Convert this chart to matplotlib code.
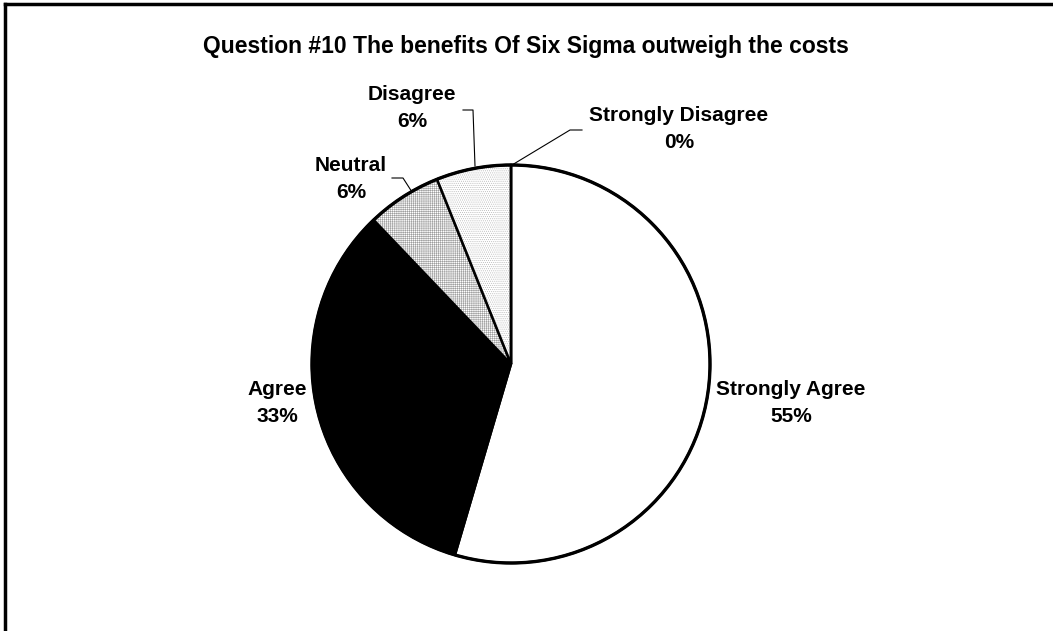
import matplotlib
matplotlib.use("Agg")
import matplotlib.pyplot as plt
from matplotlib.lines import Line2D

plt.rcParams['font.family'] = ['Liberation Sans', 'DejaVu Sans']
plt.rcParams['hatch.linewidth'] = 0.4

title = "Question #10 The benefits Of Six Sigma outweigh the costs"
categories = ["Strongly Agree", "Agree", "Neutral", "Disagree", "Strongly Disagree"]
counts = [18, 11, 2, 2, 0]
pct_labels = ["55%", "33%", "6%", "6%", "0%"]

W, H = 1053, 631
fig = plt.figure(figsize=(W / 100, H / 100), dpi=100)
ax = fig.add_axes([0, 0, 1, 1])

# outer frame (left and top visible)
fig.add_artist(Line2D([5 / W, 5 / W], [0, 1 - 4 / H], transform=fig.transFigure, color='black', lw=2.5))
fig.add_artist(Line2D([5 / W, 1], [1 - 4 / H, 1 - 4 / H], transform=fig.transFigure, color='black', lw=2.5))

cx, cy, r = 511, H - 364, 199
faces = ['white', 'black', 'white', 'white', 'white']
hatches = [None, None, '++++++++', '........', None]
hcolors = [None, None, (0.62, 0.62, 0.62, 1), (0.7, 0.7, 0.7, 1), None]
wedges, _ = ax.pie(counts, startangle=90, counterclock=False, center=(cx, cy), radius=r,
                   colors=faces, wedgeprops=dict(edgecolor='black', linewidth=1.8))
for w, h, hc in zip(wedges, hatches, hcolors):
    if h:
        w.set_hatch(h)
        w._hatch_color = hc

# outer circle thicker
circ = plt.Circle((cx, cy), r, fill=False, edgecolor='black', lw=2.4)
ax.add_patch(circ)

fs = 15
label_pos = {
    "Strongly Agree": (791, 403),
    "Agree": (277, 403),
    "Neutral": (351, 179),
    "Disagree": (412, 108),
    "Strongly Disagree": (679, 129),
}
for cat, p in zip(categories, pct_labels):
    x, y = label_pos[cat]
    ax.text(x, H - y, f"{cat}\n{p}", ha='center', va='center', fontsize=fs,
            fontweight='bold', linespacing=1.5)

# leader lines
def leader(pts):
    xs = [p[0] for p in pts]
    ys = [H - p[1] for p in pts]
    ax.plot(xs, ys, color='black', lw=0.8)

leader([(463, 110), (473, 110), (475, 166)])
leader([(582, 130), (570, 130), (512, 165)])
leader([(392, 178), (403, 178), (412, 192)])

ax.text(526, H - 46, title, ha='center', va='center', fontsize=16.5, fontweight='bold')

ax.set_xlim(0, W)
ax.set_ylim(0, H)
ax.set_aspect('equal')
ax.axis('off')

fig.savefig("out.png", dpi=100)
